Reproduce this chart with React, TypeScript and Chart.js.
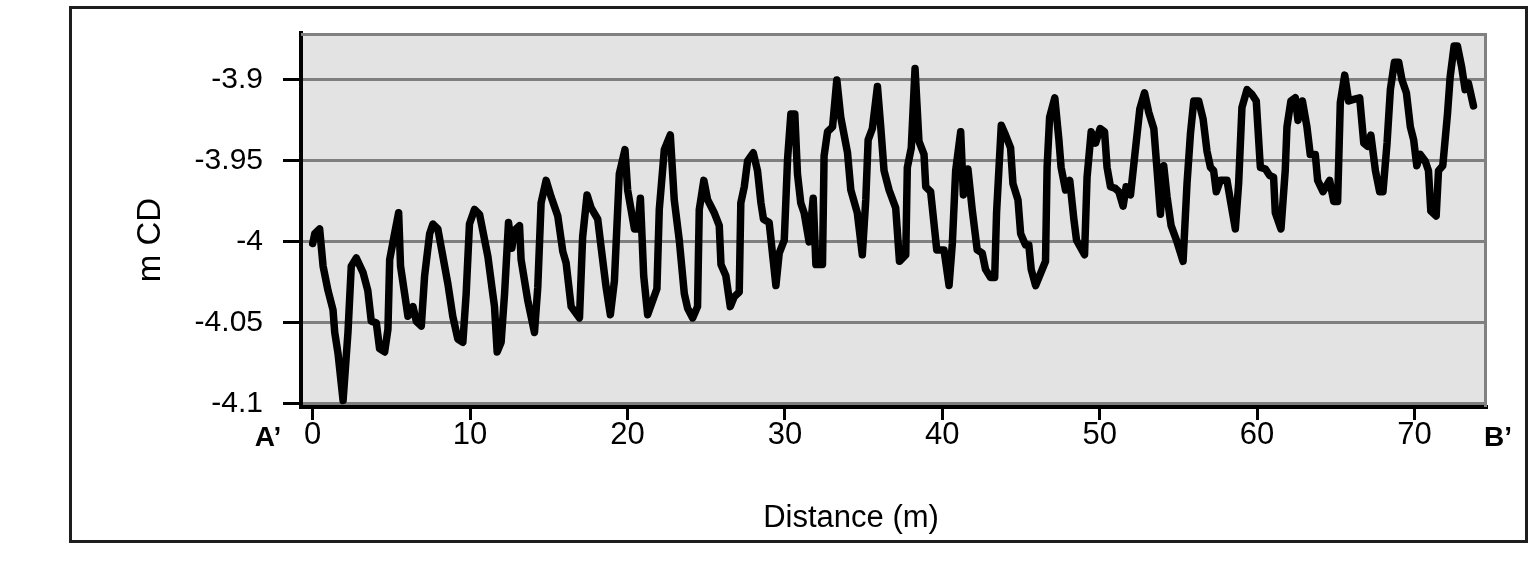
import React, { useEffect, useRef } from 'react';
import { Chart, registerables } from 'chart.js';

Chart.register(...registerables);

// Profile A'–B': distance along section (m) and bed level (m CD)
const distance = [
  0, 0.13, 0.44, 0.66, 0.97, 1.29, 1.4, 1.61, 1.93, 2.24, 2.45, 2.77, 3.2, 3.5, 3.72, 4.04, 4.25, 4.57, 4.78, 4.89,
  5.2, 5.46, 5.58, 5.84, 6.05, 6.37, 6.58, 6.9, 7.11, 7.43, 7.64, 7.95, 8.27, 8.59, 8.9, 9.22, 9.54, 9.75, 9.96, 10.28,
  10.6, 11.13, 11.44, 11.55, 11.72, 11.97, 12.19, 12.44, 12.65, 12.82, 13.14, 13.24, 13.66, 14.09, 14.3, 14.51, 14.83, 15.14, 15.57, 15.89,
  16.1, 16.42, 16.95, 17.15, 17.43, 17.69, 18.11, 18.32, 18.64, 18.91, 19.17, 19.48, 19.84, 20.01, 20.44, 20.65, 20.82, 21.03, 21.28, 21.87,
  22.02, 22.34, 22.72, 22.97, 23.29, 23.61, 23.82, 24.14, 24.45, 24.56, 24.85, 25.09, 25.51, 25.83, 25.94, 26.25, 26.53, 26.78, 27.1, 27.2,
  27.42, 27.63, 27.99, 28.26, 28.48, 28.64, 29.0, 29.43, 29.64, 29.96, 30.17, 30.38, 30.63, 30.8, 31.01, 31.22, 31.54, 31.8, 31.97, 32.39,
  32.49, 32.71, 33.03, 33.3, 33.55, 33.98, 34.19, 34.6, 34.92, 35.14, 35.29, 35.56, 35.88, 36.09, 36.3, 36.62, 37.04, 37.28, 37.68, 37.78,
  38.03, 38.27, 38.52, 38.84, 38.95, 39.26, 39.65, 40.11, 40.43, 40.64, 40.85, 41.17, 41.34, 41.63, 41.9, 42.22, 42.54, 42.75, 43.07, 43.33,
  43.45, 43.75, 44.02, 44.34, 44.49, 44.81, 44.98, 45.29, 45.5, 45.65, 45.93, 46.56, 46.66, 46.82, 47.15, 47.41, 47.55, 47.83, 48.1, 48.36,
  48.53, 49.04, 49.2, 49.46, 49.74, 50.03, 50.31, 50.47, 50.69, 51.0, 51.22, 51.49, 51.68, 51.96, 52.27, 52.55, 52.85, 53.12, 53.44, 53.65,
  53.86, 54.07, 54.28, 54.54, 54.88, 55.3, 55.55, 55.77, 55.98, 56.29, 56.57, 56.82, 57.04, 57.24, 57.41, 57.67, 58.09, 58.3, 58.62, 58.83,
  59.04, 59.36, 59.68, 59.95, 60.21, 60.53, 60.8, 61.05, 61.16, 61.52, 61.79, 61.9, 62.15, 62.43, 62.6, 62.88, 63.17, 63.38, 63.7, 63.85,
  64.19, 64.61, 64.87, 65.12, 65.29, 65.57, 65.82, 66.14, 66.52, 66.78, 67.03, 67.23, 67.52, 67.79, 68.0, 68.26, 68.47, 68.73, 69.0, 69.21,
  69.49, 69.74, 69.95, 70.15, 70.37, 70.68, 70.89, 71.04, 71.38, 71.53, 71.8, 72.1, 72.27, 72.52, 72.73, 73.0, 73.22, 73.43, 73.75,
];

const elevation = [
  -4.001, -3.995, -3.992, -4.015, -4.03, -4.042, -4.056, -4.069, -4.098, -4.056, -4.015, -4.01, -4.019, -4.03, -4.049, -4.05, -4.066, -4.068, -4.054, -4.011,
  -3.995, -3.982, -4.015, -4.032, -4.046, -4.04, -4.049, -4.052, -4.021, -3.995, -3.989, -3.992, -4.009, -4.026, -4.046, -4.06, -4.062, -4.032, -3.989, -3.98,
  -3.983, -4.009, -4.032, -4.04, -4.068, -4.062, -4.032, -3.988, -4.004, -3.993, -3.99, -4.011, -4.036, -4.056, -4.028, -3.976, -3.962, -3.972, -3.984, -4.006,
  -4.013, -4.04, -4.047, -3.997, -3.971, -3.979, -3.986, -4.003, -4.028, -4.045, -4.024, -3.958, -3.943, -3.968, -3.992, -3.992, -3.973, -4.021, -4.045, -4.029,
  -3.98, -3.943, -3.934, -3.974, -3.999, -4.032, -4.041, -4.047, -4.04, -3.98, -3.962, -3.974, -3.982, -3.99, -4.014, -4.021, -4.04, -4.034, -4.031, -3.976,
  -3.966, -3.95, -3.945, -3.956, -3.976, -3.986, -3.988, -4.027, -4.007, -3.999, -3.949, -3.921, -3.921, -3.958, -3.976, -3.982, -4.0, -3.973, -4.014, -4.014,
  -3.947, -3.932, -3.929, -3.9, -3.923, -3.945, -3.968, -3.982, -4.008, -3.974, -3.937, -3.93, -3.904, -3.929, -3.956, -3.968, -3.979, -4.012, -4.008, -3.954,
  -3.942, -3.893, -3.938, -3.946, -3.966, -3.969, -4.005, -4.005, -4.027, -4.001, -3.956, -3.932, -3.971, -3.955, -3.98, -4.005, -4.007, -4.017, -4.022, -4.022,
  -3.982, -3.928, -3.934, -3.942, -3.964, -3.974, -3.995, -4.002, -4.002, -4.017, -4.027, -4.012, -3.954, -3.923, -3.911, -3.937, -3.954, -3.968, -3.962, -3.986,
  -3.999, -4.008, -3.96, -3.932, -3.939, -3.93, -3.932, -3.954, -3.966, -3.967, -3.969, -3.978, -3.966, -3.971, -3.943, -3.918, -3.908, -3.92, -3.93, -3.956,
  -3.983, -3.953, -3.972, -3.99, -3.999, -4.012, -3.964, -3.933, -3.913, -3.913, -3.924, -3.944, -3.954, -3.956, -3.969, -3.962, -3.962, -3.974, -3.992, -3.964,
  -3.917, -3.906, -3.909, -3.913, -3.954, -3.955, -3.959, -3.96, -3.982, -3.992, -3.956, -3.929, -3.913, -3.911, -3.925, -3.913, -3.929, -3.946, -3.946, -3.962,
  -3.969, -3.962, -3.975, -3.975, -3.914, -3.897, -3.913, -3.912, -3.911, -3.939, -3.941, -3.934, -3.956, -3.969, -3.969, -3.939, -3.906, -3.889, -3.889, -3.9,
  -3.908, -3.929, -3.937, -3.953, -3.946, -3.95, -3.956, -3.981, -3.984, -3.956, -3.953, -3.921, -3.898, -3.879, -3.879, -3.892, -3.906, -3.902, -3.916,
];

const xTicks = [0, 10, 20, 30, 40, 50, 60, 70];
const xTickLabels = ['0', '10', '20', '30', '40', '50', '60', '70'];
const yTicks = [-4.1, -4.05, -4, -3.95, -3.9];
const yTickLabels = ['-4.1', '-4.05', '-4', '-3.95', '-3.9'];
const xTitle = 'Distance (m)';
const yTitle = 'm CD';
const startLabel = 'A\u2019';
const endLabel = 'B\u2019';

const FONT = '"Liberation Sans", Arial, Helvetica, sans-serif';

const decorPlugin = {
  id: 'decor',
  beforeDraw(chart: any) {
    const { ctx, chartArea: a } = chart;
    ctx.save();
    ctx.fillStyle = '#ffffff';
    ctx.fillRect(0, 0, chart.width, chart.height);
    ctx.fillStyle = '#e3e3e3';
    ctx.fillRect(a.left, a.top, a.right - a.left, a.bottom - a.top);
    ctx.restore();
  },
  beforeDatasetsDraw(chart: any) {
    const { ctx, chartArea: a } = chart;
    ctx.save();
    ctx.strokeStyle = '#808080';
    ctx.lineWidth = 3;
    ctx.beginPath();
    ctx.moveTo(a.left, a.top + 1.5);
    ctx.lineTo(a.right - 1.5, a.top + 1.5);
    ctx.lineTo(a.right - 1.5, a.bottom);
    ctx.stroke();
    ctx.restore();
  },
  afterDraw(chart: any) {
    const { ctx } = chart;
    ctx.save();
    // outer frame
    ctx.strokeStyle = '#1e1e1e';
    ctx.lineWidth = 3;
    ctx.strokeRect(70.5, 7.5, 1456, 534);
    ctx.fillStyle = '#000';
    // axis titles
    ctx.font = `31px ${FONT}`;
    ctx.textAlign = 'center';
    ctx.textBaseline = 'middle';
    ctx.fillText(xTitle, 851, 518);
    ctx.save();
    ctx.font = `33px ${FONT}`;
    ctx.translate(151, 240);
    ctx.rotate(-Math.PI / 2);
    ctx.fillText(yTitle, 0, 0);
    ctx.restore();
    // section end labels
    ctx.font = `bold 28px ${FONT}`;
    ctx.fillText(startLabel, 268, 438);
    ctx.fillText(endLabel, 1498, 438);
    ctx.restore();
  },
};

const noScalePadding = (s: any) => {
  s.paddingTop = 0;
  s.paddingBottom = 0;
  s.paddingLeft = 0;
  s.paddingRight = 0;
};

export default function App() {
  const canvasRef = useRef<HTMLCanvasElement | null>(null);

  useEffect(() => {
    if (!canvasRef.current) return;
    const points = distance.map((d, i) => ({ x: d, y: elevation[i] }));
    const chart = new Chart(canvasRef.current, {
      type: 'line',
      data: {
        datasets: [
          {
            data: points,
            borderColor: '#000000',
            borderWidth: 7.5,
            borderJoinStyle: 'round',
            borderCapStyle: 'round',
            pointRadius: 0,
            tension: 0,
            fill: false,
          },
        ],
      },
      options: {
        responsive: false,
        animation: false,
        devicePixelRatio: 1,
        layout: { padding: { left: 0, right: 52, top: 33, bottom: 0 } },
        plugins: { legend: { display: false }, tooltip: { enabled: false }, title: { display: false } },
        scales: {
          x: {
            type: 'linear',
            min: -0.744,
            max: 74.61,
            afterBuildTicks: (s: any) => {
              s.ticks = xTicks.map((v) => ({ value: v }));
            },
            afterFit: (s: any) => {
              s.height = 167;
              noScalePadding(s);
            },
            grid: {
              drawOnChartArea: false,
              drawTicks: true,
              tickLength: 13,
              tickColor: '#000000',
              tickWidth: 3,
            },
            border: { display: true, color: '#000000', width: 4 },
            ticks: {
              autoSkip: false,
              maxRotation: 0,
              padding: -3,
              color: '#000000',
              font: { family: FONT, size: 31 },
              callback: (v: any) => xTickLabels[xTicks.indexOf(Number(v))] ?? '',
            },
          },
          y: {
            type: 'linear',
            min: -4.102,
            max: -3.871,
            afterBuildTicks: (s: any) => {
              s.ticks = yTicks.map((v) => ({ value: v }));
            },
            afterFit: (s: any) => {
              s.width = 301;
              noScalePadding(s);
            },
            grid: {
              color: '#7f7f7f',
              lineWidth: 3,
              drawTicks: true,
              tickLength: 18,
              tickColor: '#000000',
              tickWidth: 3,
            },
            border: { display: true, color: '#000000', width: 4 },
            ticks: {
              padding: 20,
              color: '#000000',
              font: { family: FONT, size: 30 },
              callback: (v: any) => {
                const i = yTicks.findIndex((t) => Math.abs(t - Number(v)) < 1e-9);
                return i >= 0 ? yTickLabels[i] : '';
              },
            },
          },
        },
      },
      plugins: [decorPlugin],
    } as any);
    return () => chart.destroy();
  }, []);

  return (
    <div style={{ position: 'absolute', left: 0, top: 0, width: 1539, height: 574 }}>
      <canvas ref={canvasRef} width={1539} height={574} style={{ display: 'block' }} />
    </div>
  );
}
